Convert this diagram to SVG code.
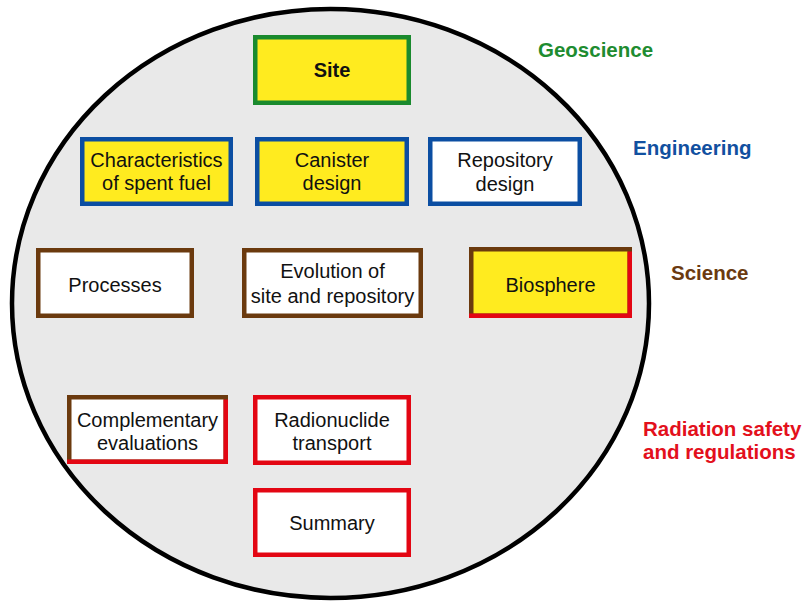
<svg xmlns="http://www.w3.org/2000/svg" width="803" height="603" viewBox="0 0 803 603">
  <style>
    .box { stroke-width: 4.5; }
    .yellow { fill: #ffeb1f; }
    .white { fill: #ffffff; }
    .geo { stroke: #1a8a2e; }
    .eng { stroke: #0b4ea2; }
    .sci { stroke: #6b3a0e; }
    .rad { stroke: #e30613; }
    .t { font-family: "Liberation Sans", Arial, sans-serif; font-size: 20px; fill: #111111; text-anchor: middle; }
    .b { font-weight: bold; }
    .lbl { font-family: "Liberation Sans", Arial, sans-serif; font-size: 20.5px; font-weight: bold; }
  </style>

  <!-- background disc -->
  <ellipse id="scope" cx="330.5" cy="303.5" rx="318.5" ry="294.5" fill="#e9e9e9" stroke="#000000" stroke-width="4.5"/>

  <!-- discipline labels -->
  <g id="labels">
    <text class="lbl" x="538" y="57" fill="#1e8c30">Geoscience</text>
    <text class="lbl" x="633" y="155" fill="#1150a0">Engineering</text>
    <text class="lbl" x="671" y="280" fill="#6b3a10">Science</text>
    <text class="lbl" x="643" y="436" fill="#e3101c">Radiation safety</text>
    <text class="lbl" x="643" y="459" fill="#e3101c">and regulations</text>
  </g>

  <g id="site">
    <rect class="box yellow geo" x="255.25" y="37.25" width="153.5" height="65.5"/>
    <text class="t b" x="332" y="77">Site</text>
  </g>

  <g id="spent-fuel">
    <rect class="box yellow eng" x="82.25" y="139.25" width="148.5" height="64.5"/>
    <text class="t" x="156.5" y="167">Characteristics</text>
    <text class="t" x="156.5" y="190">of spent fuel</text>
  </g>

  <g id="canister">
    <rect class="box yellow eng" x="257.25" y="139.25" width="149.5" height="64.5"/>
    <text class="t" x="332" y="167">Canister</text>
    <text class="t" x="332" y="190">design</text>
  </g>

  <g id="repository">
    <rect class="box white eng" x="430.25" y="139.25" width="149.5" height="64.5"/>
    <text class="t" x="505" y="167">Repository</text>
    <text class="t" x="505" y="191">design</text>
  </g>

  <g id="processes">
    <rect class="box white sci" x="38.25" y="250.25" width="153.5" height="65.5"/>
    <text class="t" x="115" y="292">Processes</text>
  </g>

  <g id="evolution">
    <rect class="box white sci" x="244.25" y="250.25" width="176.5" height="65.5"/>
    <text class="t" x="332.5" y="278">Evolution of</text>
    <text class="t" x="332.5" y="303">site and repository</text>
  </g>

  <g id="biosphere">
    <rect class="box yellow sci" x="471.25" y="249.25" width="158.5" height="66.5"/>
    <path class="box rad" fill="none" d="M629.75 251.5 V315.75 H469"/>
    <text class="t" x="550.5" y="292">Biosphere</text>
  </g>

  <g id="complementary">
    <rect class="box white sci" x="69.25" y="397.25" width="156.5" height="64.5"/>
    <path class="box rad" fill="none" d="M225.75 399.5 V461.75 H67"/>
    <text class="t" x="147.5" y="427">Complementary</text>
    <text class="t" x="147.5" y="450">evaluations</text>
  </g>

  <g id="transport">
    <rect class="box white rad" x="255.25" y="397.25" width="153.5" height="65.5"/>
    <text class="t" x="332" y="427">Radionuclide</text>
    <text class="t" x="332" y="450">transport</text>
  </g>

  <g id="summary">
    <rect class="box white rad" x="255.25" y="490.25" width="153.5" height="64.5"/>
    <text class="t" x="332" y="530">Summary</text>
  </g>
</svg>
